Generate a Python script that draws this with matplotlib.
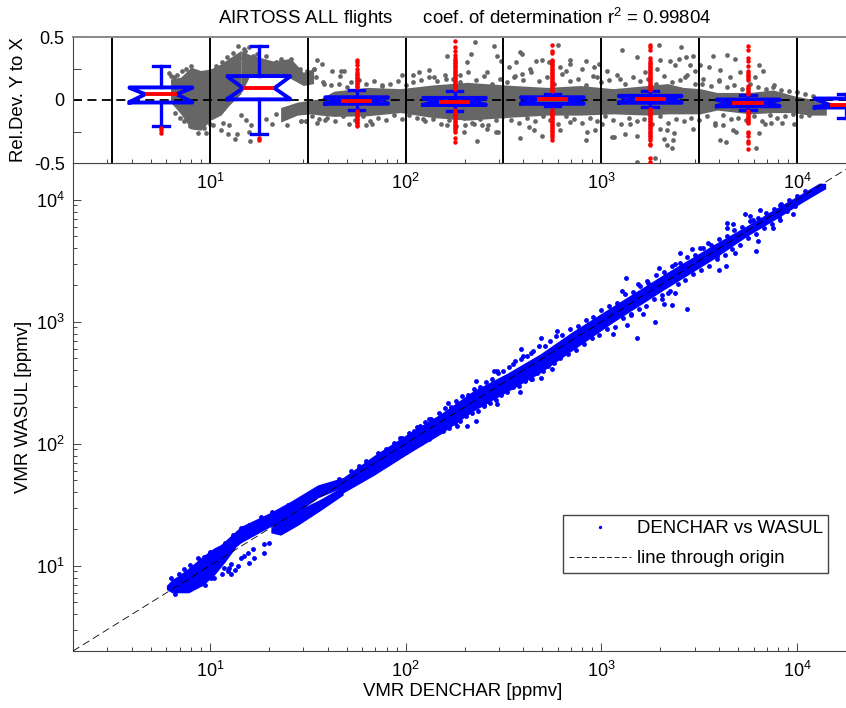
"""
AIRTOSS water vapour comparison, DENCHAR vs WASUL.
"""
import numpy as np
import matplotlib
matplotlib.use('Agg')
import matplotlib.pyplot as plt
from matplotlib.lines import Line2D

plt.rcParams['font.family'] = ['Liberation Sans', 'DejaVu Sans']
plt.rcParams['mathtext.fontset'] = 'custom'
plt.rcParams['mathtext.rm'] = 'Liberation Sans'
plt.rcParams['mathtext.default'] = 'regular'

# Dense part of the main scatter, values in ppmv.
start_x = [6.0, 6.4, 6.9, 7.8, 9.2, 10.5, 12, 13.5]
start_hi = [6.9, 7.7, 8.3, 9.6, 12, 14, 15.5, 17]
start_lo = [6.4, 6.0, 6.0, 6.0, 6.9, 8.3, 10.8, 14]
band_x = [46, 48, 68.8, 102, 151, 222, 330, 487, 716, 1150, 2070, 3720, 5560, 8220, 10400, 13000, 14000]
band_hi = [49, 53, 80, 120, 176, 272, 378, 545, 835, 1350, 2430, 4260, 6150, 8950, 11100, 13700, 13600]
band_lo = [38, 39.5, 55, 82, 120, 185, 266, 380, 585, 990, 1810, 3240, 5030, 7300, 9300, 11500, 12300]

# The two strands between about 11 and 48 ppmv.
upper_x = [11, 14.4, 20.5, 25.9, 35.6, 48]
upper_hi = [14.2, 21, 27.5, 33.8, 46, 53]
upper_lo = [10.8, 15.4, 21, 25, 36, 44]
lower_x = [20.5, 23, 28.1, 36.8, 48]
lower_hi = [20.5, 24, 28.5, 35.2, 45]
lower_lo = [18.6, 17.8, 21.4, 28.4, 38]

# Scattered points away from the dense band.
main_x = [20, 18.9, 16.6, 18.9, 15.6, 14.9, 16.8, 14.4, 15.8, 12.9, 13.9, 12.5, 11.8, 12.4,
          13.4, 11.5, 12.8, 9.5, 10.1, 391, 489, 597, 494, 386, 294, 230, 164, 205, 230,
          294, 265, 251, 562, 444, 283, 352, 400, 435, 119, 110, 94, 184, 131, 1343, 1279,
          1528, 1888, 2750, 4000, 4340, 4400, 4400, 4710, 5430, 5760, 6180, 6320, 6470,
          9550, 2530, 2910, 3200, 3520, 1977, 1718, 2390, 1540, 2050, 2080, 2300, 2200,
          2390, 1640, 1360, 1420, 1150, 4830, 3900, 7550, 8200, 7400, 8200, 5970]
main_y = [15.5, 15.1, 13.8, 12.8, 12.8, 12.1, 11.6, 11.6, 10.6, 10.4, 10.0, 9.6, 9.6, 9.1,
          9.3, 8.6, 8.6, 7, 8, 600, 740, 840, 345, 266, 397, 327, 216, 141, 154,
          213, 225, 205, 412, 339, 397, 450, 525, 555, 141, 128, 112, 141, 160, 2300, 1770,
          740, 1000, 1275, 2670, 2880, 6440, 5860, 6300, 7700, 7360, 3830, 4600, 8270,
          7700, 3630, 3920, 4000, 4450, 2770, 2160, 2980, 2050, 1540, 1400, 1380, 1730,
          1730, 1160, 940, 1160, 795, 3630, 3460, 5860, 6870, 7700, 9080, 6870]

# Ragged edge of the band: log10 of VMR and log10 of Y over X.
edge_logx = [.80, .84, .87, .90, .94, .97, 1.0, 1.04, 1.08, 1.12, 1.16, 1.2, 1.26, 1.32, 1.4,
             1.47, 1.55, 1.6, 1.66, 1.72, 1.76, 1.8, 1.86, 1.9, 1.94, 1.98, 2.02, 2.06, 2.1,
             2.13, 2.17, 2.2, 2.23, 2.26, 2.29, 2.32, 2.35, 2.38, 2.41, 2.44, 2.47, 2.5, 2.53,
             2.56, 2.59, 2.62, 2.65, 2.68, 2.71, 2.74, 2.77, 2.8, 2.84, 2.88, 2.92, 2.96, 3.0,
             3.04, 3.08, 3.12, 3.16, 3.2, 3.24, 3.28, 3.32, 3.36, 3.4, 3.44, 3.48, 3.52, 3.56,
             3.6, 3.64, 3.68, 3.72, 3.76, 3.8, 3.84, 3.88, 3.92, 3.96, 4.0, 4.04,
             .82, .88, .95, 1.02, 1.7, 1.75, 1.82, 1.88, 1.95, 2.0, 2.04, 2.08, 2.12, 2.16,
             2.19, 2.22, 2.25, 2.28, 2.31, 2.34, 2.37, 2.4, 2.43, 2.46, 2.49, 2.52, 2.55, 2.58,
             2.61, 2.64, 2.67, 2.7, 2.73, 2.76, 2.79, 2.83, 2.87, 2.91, 2.95, 2.99, 3.03, 3.07,
             3.11, 3.15, 3.19, 3.23, 3.27, 3.31, 3.35, 3.39, 3.43, 3.47, 3.51, 3.55, 3.59, 3.63,
             3.67, 3.71, 3.75, 3.79, 3.83, 3.87, 3.91, 3.95, 3.99]
edge_dev = [.10, .09, .10, .11, .12, .10, .11, .10, .11, .13, .15, .13, .14, .12, .10,
            .07, .06, .06, .05, .055, .06, .055, .065, .06, .07, .065, .07, .075, .08,
            .07, .085, .09, .075, .09, .10, .08, .095, .085, .10, .09, .11, .095, .10,
            .12, .105, .10, .11, .125, .09, .10, .115, .09, .10, .085, .095, .08, .10,
            .09, .07, .11, .08, .09, .075, .10, .085, .095, .08, .09, .07, .085, .07,
            .08, .065, .07, .06, .065, .05, .055, .04, .045, .035, .03, .03,
            -.05, -.08, -.10, -.12, -.05, -.055, -.06, -.06, -.065, -.07, -.065, -.07, -.08, -.075,
            -.085, -.09, -.08, -.095, -.085, -.09, -.10, -.085, -.095, -.105, -.09, -.10, -.085, -.105,
            -.095, -.11, -.09, -.105, -.09, -.10, -.085, -.095, -.105, -.09, -.085, -.10, -.09, -.11,
            -.08, -.095, -.085, -.10, -.08, -.09, -.095, -.08, -.09, -.075, -.085, -.09, -.075, -.08,
            -.07, -.08, -.065, -.075, -.06, -.065, -.055, -.045, -.04]

# Grey cloud of the relative deviation, dense part.
cloud_x = [6.3, 7.1, 8, 9, 10.1, 11.4, 12.5, 14.4]
cloud_hi = [.168, .181, .26, .234, .247, .287, .33, .392]
cloud_lo = [-.018, -.11, -.23, -.24, -.16, -.12, -.045, .05]
strand_x = [14.4, 16, 21, 25.9, 30, 33.9]
strand_hi = [.392, .36, .31, .33, .22, .25]
strand_lo = [.05, .19, .19, .17, .115, .13]
core_x = [23, 28, 32.8, 36.8, 43, 64, 94, 139, 207, 356, 530, 780, 1150, 1720, 2180, 2620,
          3200, 3900, 5760, 7550, 9550, 11500, 14100]
core_hi = [-.06, -.017, 0, .01, .07, .10, .09, .12, .14, .115, .10, .115, .09, .115, .13,
           .10, .09, .06, .06, .08, .035, .01, -.04]
core_lo = [-.175, -.12, -.11, -.12, -.13, -.125, -.10, -.14, -.16, -.135, -.12, -.12, -.11,
           -.12, -.11, -.11, -.11, -.08, -.11, -.10, -.10, -.12, -.12]

# Grey scattered points: log10 of VMR and relative deviation.
grey_logx = [1.014, 1.056, 1.068, 1.099, 1.094, 1.141, 1.128, 1.158, 1.184, 1.209, 1.201, 1.206,
             1.286, 1.320, 1.337, 1.396, 1.464, 1.490, .98, 1.146, 1.175, 1.201, .793, .903,
             .818, 1.243, 1.286, 1.362, 1.413, 1.498, 1.532, 1.549, 1.575, 1.532, 1.498, 1.626,
             1.668, 1.685, 1.665, 1.583, 1.881, 1.983, 2.039, 2.068, 2.119, 2.144, 2.212, 2.336,
             2.357, 2.314, 2.280, 2.204, 2.365, 1.549, 1.586, 1.49, 1.467, 1.711, 1.799, 1.826,
             2.090, 2.297, 2.306, 2.348, 2.212, 2.451, 2.468, 2.485, 2.417, 2.460, 2.471, 2.392,
             2.417, 2.587, 2.596, 2.562, 2.528, 2.553, 2.596, 2.638, 2.664, 2.698, 2.732, 2.778,
             2.791, 2.839, 2.842, 2.817, 2.924, 2.902, 2.961, 2.987, 2.978, 2.587, 2.630, 2.655,
             2.698, 2.791, 2.842, 2.927, 2.922, 2.97, 3.004, 3.055, 3.063, 3.106, 3.182, 3.225,
             3.029, 3.097, 3.123, 3.182, 3.276, 3.182, 3.148, 3.293, 3.406, 3.301, 3.352, 3.395,
             3.434, 3.466, 3.378, 3.454, 3.284, 3.429, 3.480, 3.505, 3.514, 3.548, 3.570, 3.641,
             3.684, 3.607, 3.599, 3.658, 3.709, 3.803, 3.825, 3.786, 3.879, 3.318, 3.335, 3.361,
             3.366, 3.301, 3.338, 3.372, 3.466, 3.604, 3.638, 3.582, 3.624, 3.675, 3.689, 3.803,
             3.791, 3.837, 3.866, 3.922, 3.985,
             # fringe of the cloud
             .80, .83, .86, .88, .82, .85, .87, .90, .94, .97, 1.0, 1.03, 1.06, 1.09, 1.12, 1.15,
             1.18, 1.22, 1.26, 1.30, 1.34, 1.38, 1.42, 1.46, 1.50, 1.54, 1.58, 1.62, 1.66, 1.70,
             1.52, 1.56, 1.60, 1.64, 1.68, 1.72, 1.76, 1.80, 1.84, 1.88, 1.92, 1.96, 2.0, 2.04,
             2.08, 2.12, 2.16, 2.2, 2.24, 2.28, 2.32, 2.36, 2.4, 2.44, 2.48, 2.52, 2.56, 2.6,
             2.64, 2.68, 2.72, 2.76, 2.8, 2.84, 2.88, 2.92, 2.96, 3.0, 3.04, 3.08, 3.12, 3.16,
             3.2, 3.24, 3.28, 3.32, 3.36, 3.4, 3.44, 3.48, 3.52, 3.56, 3.6, 3.64, 3.68, 3.72,
             3.76, 3.8, 3.84, 3.88, 3.92, 3.96, 4.0, 4.04, 4.08, 1.74, 1.78, 1.82, 1.86, 1.9,
             1.94, 1.98, 2.02, 2.06, 2.1, 2.14, 2.18, 2.22, 2.26, 2.3, 2.34, 2.38, 2.42, 2.46,
             2.5, 2.54, 2.58, 2.62, 2.66, 2.7, 2.74, 2.78, 2.82, 2.86, 2.9, 2.94, 2.98, 3.02,
             3.06, 3.1, 3.14, 3.18, 3.22, 3.26, 3.3, 3.34, 3.38, 3.42, 3.46, 3.5, 3.54, 3.58,
             3.62, 3.66, 3.7, 3.74, 3.78, 3.82, 3.86, 3.9, 3.94, 3.98, 4.02, 4.06]
grey_rel = [-.197, -.242, -.182, -.202, -.269, -.269, -.308, -.123, -.155, -.202, -.255, -.329,
            -.149, -.189, -.11, -.202, -.163, -.163, -.263, .427, .406, .419, .216, .269,
            .18, .366, .353, .327, .327, .234, .247, .319, .287, .247, .195, .234,
            .234, .234, .189, .128, .115, .2, .195, .221, .242, .181, .348, .366,
            .464, .3, .195, .168, -.329, -.181, -.155, -.17, -.17, -.189, -.197, -.189,
            -.149, -.255, -.202, -.189, -.202, .427, .353, .313, .221, -.255, -.255, -.202,
            -.229, .38, .366, .3, .261, .181, .208, .247, .313, .321, .3, .433,
            .261, .321, .287, .234, .306, .247, .261, .287, .181, -.303, -.216, -.242,
            -.282, -.242, -.176, -.255, -.316, -.242, -.189, -.295, -.295, .398, .34, .221,
            .234, .168, -.269, -.493, -.462, -.282, -.189, .438, .419, .321, .313, .327,
            .34, .348, .274, .279, .247, .181, .234, .274, .128, .261, .348, .358,
            .327, .239, .155, .181, .221, .279, .234, .181, .102, -.308, -.361, -.382,
            -.321, -.229, -.242, -.263, -.229, -.321, -.335, -.202, -.197, -.242, -.255, -.263,
            -.382, -.189, -.181, -.181, -.189,
            # fringe of the cloud
            .19, .20, .23, .25, -.10, -.14, -.17, -.21, -.26, -.22, -.19, .27, .30, .34, .37, .33,
            .39, .35, .31, .28, .30, .26, .24, .25, .21, .18, .14, .12, .13, .10,
            -.13, -.15, -.14, -.17, -.13, .14, .16, .13, .15, .12, .13, .15, .12, .14,
            .16, .18, .15, .20, .17, .14, .22, .16, .19, .13, .17, .14, .19, .16,
            .22, .15, .18, .13, .21, .15, .17, .12, .19, .14, .16, .20, .13, .18,
            .15, .17, .13, .19, .14, .16, .20, .13, .17, .11, .15, .10, .12, .09,
            .13, .10, .09, .12, .08, .07, .06, .05, .03, -.16, -.13, -.17, -.14, -.16,
            -.12, -.15, -.12, -.14, -.17, -.15, -.19, -.16, -.21, -.14, -.18, -.15, -.20, -.16,
            -.13, -.16, -.18, -.14, -.17, -.13, -.16, -.19, -.13, -.15, -.18, -.14, -.17, -.13,
            -.16, -.19, -.14, -.17, -.15, -.19, -.13, -.18, -.15, -.17, -.14, -.16, -.13, -.18,
            -.12, -.15, -.14, -.16, -.13, -.17, -.12, -.14, -.13, -.11, -.13, -.12]

# Box statistics per half decade bin.
box_logx = [.75, 1.25, 1.75, 2.25, 2.75, 3.25, 3.75, 4.25]
box_q1 = [-.02, .005, -.03, -.04, -.03, -.022, -.05, -.06]
box_med = [.046, .094, -.004, -.012, .004, .01, -.02, -.04]
box_q3 = [.10, .19, .022, .017, .022, .033, .004, .012]
box_whislo = [-.205, -.27, -.08, -.09, -.045, -.057, -.078, -.14]
box_whishi = [.27, .43, .078, .07, .045, .07, .036, .044]
box_fliers = [
    [-.22, -.24, -.26],
    [-.30, -.32],
    [.10, .112, .124, .136, .148, .16, .172, .184, .196, .208, .22, .25, .28, .30, .32,
     -.09, -.10, -.112, -.124, -.136, -.148, -.16, -.172, -.184, -.196, -.208],
    [.09, .102, .114, .126, .138, .15, .162, .174, .186, .198, .21, .222, .234, .246, .258,
     .27, .282, .294, .306, .318, .33, .36, .39, .42, .47,
     -.08, -.092, -.104, -.116, -.128, -.14, -.152, -.164, -.176, -.188, -.2, -.212, -.224,
     -.236, -.25, -.30, -.33],
    [.07, .082, .094, .106, .118, .13, .142, .154, .166, .178, .19, .202, .214, .226, .238,
     .25, .262, .274, .286, .298, .31, .32, .37, .39, .44,
     -.08, -.092, -.104, -.116, -.128, -.14, -.152, -.164, -.176, -.188, -.2, -.212, -.224,
     -.236, -.248, -.26, -.275, -.295, -.315],
    [.08, .092, .104, .116, .128, .14, .152, .164, .176, .188, .2, .212, .224, .236, .248,
     .26, .272, .284, .296, .308, .33, .40, .42, .44,
     -.07, -.082, -.094, -.106, -.118, -.13, -.142, -.154, -.166, -.178, -.19, -.202, -.214,
     -.226, -.238, -.25, -.262, -.274, -.286, -.30, -.315, -.35, -.36, -.46, -.49],
    [.05, .062, .074, .086, .098, .11, .16, .175, .19, .20, .215, .23, .27, .31, .33, .40, .43,
     -.09, -.102, -.114, -.126, -.138, -.15, -.162, -.174, -.186, -.25, -.265, -.285,
     -.325, -.34, -.385],
    [],
]

bin_edges = [10**.5, 10, 10**1.5, 100, 10**2.5, 1000, 10**3.5, 10000]
decades = [10, 100, 1000, 10000]
decade_labels = ['$10^{1}$', '$10^{2}$', '$10^{3}$', '$10^{4}$']

BLUE = '#0000ff'
GREY = '#666666'
SPINE = '#444444'
XLIM = (2, 20000)
FONT = 13.4
TICK_FONT = 13

fig = plt.figure(figsize=(8.46, 7.08), dpi=100)
left, width = 73 / 846, (856 - 73) / 846
ax = fig.add_axes([left, (708 - 651) / 708, width, (651 - 163) / 708])
top = fig.add_axes([left, (708 - 163) / 708, width, (163 - 37) / 708])
box_ax = fig.add_axes(top.get_position(), frameon=False)

# Main scatter.
ax.fill_between(start_x, start_lo, start_hi, color=BLUE, lw=0, zorder=2)
ax.fill_between(band_x, band_lo, band_hi, color=BLUE, lw=0, zorder=2)
ax.fill_between(upper_x, upper_lo, upper_hi, color=BLUE, lw=0, zorder=2)
ax.fill_between(lower_x, lower_lo, lower_hi, color=BLUE, lw=0, zorder=2)
ax.plot(main_x, main_y, ls='none', marker='o', ms=3.5, mew=0, color=BLUE, zorder=2)
edge_logx = np.array(edge_logx)
ax.plot(10**edge_logx, 10**(edge_logx + np.array(edge_dev)), ls='none', marker='o', ms=3.5,
        mew=0, color=BLUE, zorder=2)
ax.plot(XLIM, XLIM, color='black', ls=(0, (9, 5)), lw=0.6, zorder=3)
ax.set_xscale('log')
ax.set_yscale('log')
ax.set_xlim(XLIM)
ax.set_ylim(XLIM)
ax.set_xticks(decades, decade_labels)
ax.set_yticks(decades, decade_labels)
ax.tick_params(which='major', direction='in', length=6, width=0.7, color=SPINE, labelsize=TICK_FONT)
ax.tick_params(which='minor', direction='in', length=3, width=0.7, color=SPINE)
ax.tick_params(axis='x', pad=7)
ax.tick_params(axis='y', pad=6)
ax.set_xlabel('VMR DENCHAR [ppmv]', fontsize=FONT)
ax.xaxis.set_label_coords((463 - 73) / 783, -(683 - 651) / 488)
ax.set_ylabel('VMR WASUL [ppmv]', fontsize=FONT)
ax.yaxis.set_label_coords(-(73 - 32) / 783, 0.5)
for name in ['top', 'right', 'left', 'bottom']:
    ax.spines[name].set_color(SPINE)
    ax.spines[name].set_linewidth(0.8)

handles = [
    Line2D([], [], ls='none', marker='o', ms=2.4, mew=0, color=BLUE, label='DENCHAR vs WASUL'),
    Line2D([], [], color='black', ls=(0, (6, 3)), lw=0.6, label='line through origin'),
]
ax.legend(handles=handles, loc='lower left', bbox_to_anchor=((563 - 73) / 783, (651 - 573) / 488),
          fancybox=False, framealpha=1, edgecolor=SPINE, fontsize=FONT, borderaxespad=0,
          handlelength=3.35, handletextpad=0.3, borderpad=0.3, labelspacing=0.7)

# Relative deviation panel.
top.fill_between(cloud_x, cloud_lo, cloud_hi, color=GREY, lw=0, zorder=1)
top.fill_between(strand_x, strand_lo, strand_hi, color=GREY, lw=0, zorder=1)
top.fill_between(core_x, core_lo, core_hi, color=GREY, lw=0, zorder=1)
top.plot(10**np.array(grey_logx), grey_rel, ls='none', marker='o', ms=3.4, mew=0, color=GREY, zorder=1)
for edge in bin_edges:
    top.axvline(edge, color='black', lw=1.4, zorder=2)
top.plot(XLIM, [0, 0], color='black', ls=(0, (5, 3)), lw=1.3, zorder=2)
top.set_xscale('log')
top.set_xlim(XLIM)
top.set_ylim(-0.5, 0.5)
top.set_xticks(decades, decade_labels)
top.set_yticks([-0.5, -0.25, 0, 0.25, 0.5], ['-0.5', '', '0', '', '0.5'])
top.tick_params(which='major', direction='in', length=6, width=0.7, color=SPINE, labelsize=TICK_FONT)
top.tick_params(which='minor', direction='in', length=3, width=0.7, color=SPINE)
top.tick_params(axis='x', pad=7)
top.tick_params(axis='y', pad=6)
top.set_ylabel('Rel.Dev. Y to X', fontsize=FONT)
top.yaxis.set_label_coords(-(73 - 27) / 783, 0.5)
top.spines['top'].set_color('#888888')
top.spines['top'].set_linewidth(1.4)
top.spines['left'].set_color(SPINE)
top.spines['bottom'].set_color(SPINE)
top.spines['right'].set_visible(False)

# Boxes sit on a linear log10 axis so they keep one width.
stats = []
for i in range(len(box_logx)):
    stats.append({
        'med': box_med[i],
        'q1': box_q1[i],
        'q3': box_q3[i],
        'cilo': box_q1[i] + .004,
        'cihi': box_q3[i] - .004,
        'whislo': box_whislo[i],
        'whishi': box_whishi[i],
        'fliers': box_fliers[i],
    })
box_ax.bxp(stats, positions=box_logx, widths=0.32, capwidths=0.08, shownotches=True,
           manage_ticks=False,
           boxprops={'color': BLUE, 'lw': 2.8},
           whiskerprops={'color': BLUE, 'lw': 2.4, 'ls': '-'},
           capprops={'color': BLUE, 'lw': 2.4},
           medianprops={'color': 'red', 'lw': 2.8, 'solid_capstyle': 'butt'},
           flierprops={'marker': 'o', 'ms': 3.2, 'mew': 0, 'mfc': 'red', 'mec': 'red', 'ls': 'none'})
box_ax.set_xlim(np.log10(XLIM[0]), np.log10(XLIM[1]))
box_ax.set_ylim(-0.5, 0.5)
box_ax.set_xticks([])
box_ax.set_yticks([])
box_ax.patch.set_alpha(0)

fig.text(218 / 846, 1 - 24 / 708, 'AIRTOSS ALL flights      coef. of determination r$^2$ = 0.99804',
         fontsize=FONT, ha='left', va='baseline')

fig.savefig('out.png', dpi=100)
